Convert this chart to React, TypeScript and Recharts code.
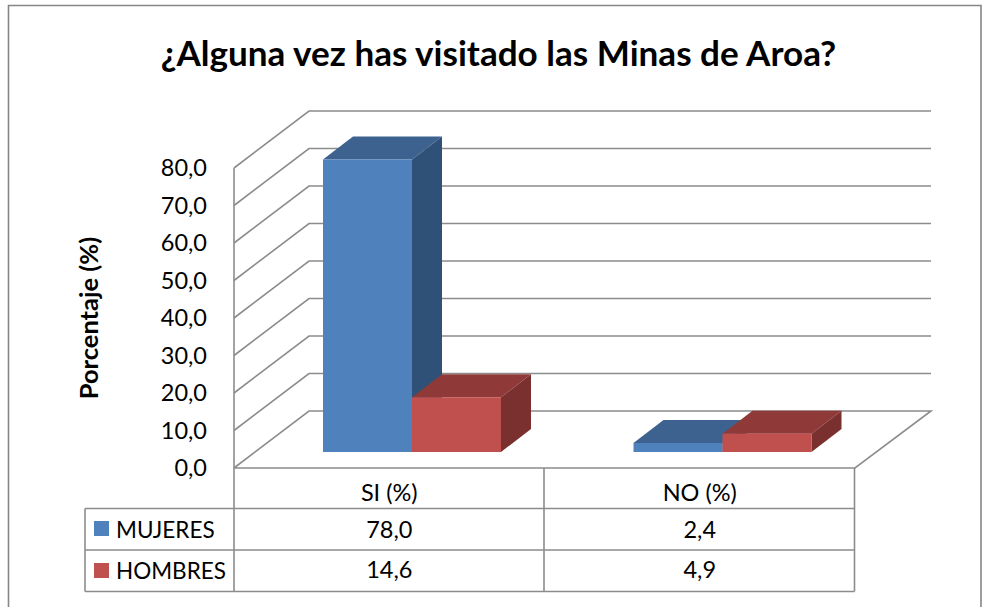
import React from 'react';
import { BarChart, Bar, XAxis, YAxis, CartesianGrid } from 'recharts';

const categories = ['SI (%)', 'NO (%)'];
const mujeres = [78.0, 2.4];
const hombres = [14.6, 4.9];
const yTicks = [0, 10, 20, 30, 40, 50, 60, 70, 80];

const chartRows = categories.map((name, i) => ({ name, mujeres: mujeres[i], hombres: hombres[i] }));

const FONT = 'Lato, sans-serif';
const LINE = '#8c8c8c';
const TEXT_SIZE = 23.5;

// fake 3D offsets
const WALL_DX = 75;
const WALL_DY = 57;
const BAR_SHIFT_X = 23;
const BAR_SHIFT_Y = 16;
const BAR_DX = 30;
const BAR_DY = 23;

const decimal = (v: number) => v.toFixed(1).replace('.', ',');

const GridLine = (props: any) => {
  const { x1, y1, x2, y, height } = props;
  const isFloor = Math.abs(y1 - (y + height)) < 0.5;
  const back = `${x1},${y1} ${x1 + WALL_DX},${y1 - WALL_DY} ${x2 + WALL_DX + 1},${y1 - WALL_DY}`;
  return (
    <polyline
      key={props.key}
      points={isFloor ? `${back} ${x2},${y1} ${x1},${y1}` : back}
      fill="none"
      stroke={LINE}
      strokeWidth={1.6}
    />
  );
};

const box3d = (front: string, top: string, side: string) => (props: any) => {
  const x = props.x + BAR_SHIFT_X;
  const y = props.y - BAR_SHIFT_Y;
  const { width, height } = props;
  return (
    <g>
      <polygon points={`${x},${y} ${x + BAR_DX},${y - BAR_DY} ${x + width + BAR_DX},${y - BAR_DY} ${x + width},${y}`} fill={top} />
      <polygon points={`${x + width},${y} ${x + width + BAR_DX},${y - BAR_DY} ${x + width + BAR_DX},${y + height - BAR_DY} ${x + width},${y + height}`} fill={side} />
      <rect x={x} y={y} width={width} height={height} fill={front} />
    </g>
  );
};

const TableColumn = (props: any) => {
  const { x, y, payload, index } = props;
  const cell = (text: string, top: number) => (
    <text x={x} y={top} textAnchor="middle" fontFamily={FONT} fontSize={TEXT_SIZE} fill="#000">
      {text}
    </text>
  );
  return (
    <g>
      {cell(payload.value, y + 25)}
      {cell(decimal(mujeres[index]), y + 62)}
      {cell(decimal(hombres[index]), y + 102)}
    </g>
  );
};

const App = () => {
  return (
    <div style={{ position: 'absolute', left: 0, top: 0, width: 982, height: 607, background: '#fff' }}>
      <BarChart
        width={982}
        height={607}
        data={chartRows}
        margin={{ top: 168, right: 127, bottom: 0, left: 84 }}
        barGap={0}
        barSize={89}
      >
        <path d="M8.5 607 V5.5 H981 V607" fill="none" stroke="#868686" strokeWidth={1.6} />
        <text x={498.5} y={66} textAnchor="middle" fontFamily={FONT} fontWeight={700} fontSize={35.1} fill="#000">
          ¿Alguna vez has visitado las Minas de Aroa?
        </text>
        <CartesianGrid vertical={false} horizontal={GridLine} stroke={LINE} />
        <XAxis dataKey="name" height={139} axisLine={false} tickLine={false} tick={TableColumn} interval={0} />
        <YAxis
          width={150}
          domain={[0, 80]}
          ticks={yTicks}
          tickFormatter={decimal}
          tickLine={false}
          tickMargin={21}
          axisLine={{ stroke: LINE, strokeWidth: 1.6 }}
          tick={{ fontFamily: FONT, fontSize: TEXT_SIZE, fill: '#000' }}
          label={{
            value: 'Porcentaje (%)',
            angle: -90,
            position: 'insideLeft',
            offset: 5,
            style: { textAnchor: 'middle', fontFamily: FONT, fontWeight: 700, fontSize: 25.5, fill: '#000' },
          }}
        />
        <Bar dataKey="mujeres" name="MUJERES" fill="#4f81bd" isAnimationActive={false} shape={box3d('#4f81bd', '#3d6290', '#2f5178')} />
        <Bar dataKey="hombres" name="HOMBRES" fill="#c0504d" isAnimationActive={false} shape={box3d('#c0504d', '#8f3a38', '#7a302e')} />
        <path
          d="M234 468 V591.5 M544 468 V591.5 M854.5 468 V591.5 M85 508.5 H854.5 M85 550 H854.5 M85 591.5 H854.5 M85 508.5 V591.5"
          fill="none"
          stroke={LINE}
          strokeWidth={1.6}
        />
        <rect x={94} y={521} width={15} height={15} fill="#4f81bd" />
        <text x={116} y={538} fontFamily={FONT} fontSize={22.5} fill="#000">MUJERES</text>
        <rect x={94} y={563} width={15} height={15} fill="#c0504d" />
        <text x={116} y={579} fontFamily={FONT} fontSize={22.5} fill="#000">HOMBRES</text>
      </BarChart>
    </div>
  );
};

export default App;
